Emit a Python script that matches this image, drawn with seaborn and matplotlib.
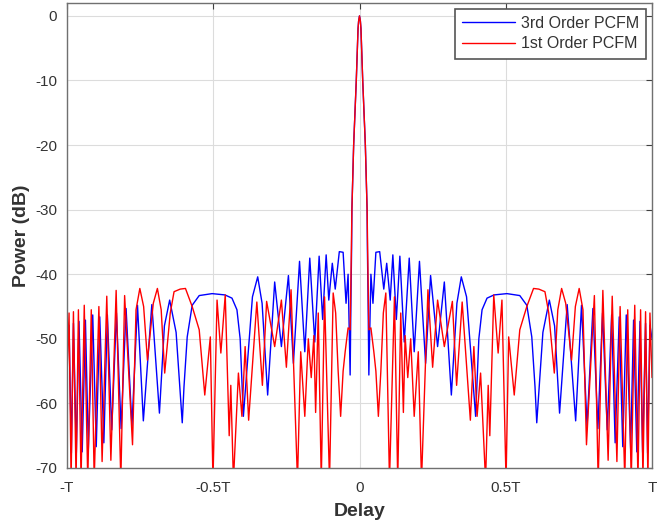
import numpy as np
import pandas as pd
import matplotlib
matplotlib.use("Agg")
import matplotlib.pyplot as plt
import seaborn as sns

# ---- data (right half, delay in units of T; autocorrelation is symmetric) ----
delay_3rd = [0, 0.003, 0.005, 0.011, 0.020, 0.026, 0.027, 0.029, 0.032, 0.039, 0.046,
             0.056, 0.069, 0.083, 0.093, 0.105, 0.114, 0.126, 0.138, 0.153, 0.170,
             0.187, 0.205, 0.226, 0.243, 0.267, 0.290, 0.314, 0.333, 0.348, 0.366,
             0.397, 0.408, 0.419, 0.436, 0.460, 0.504, 0.548, 0.572, 0.589, 0.600,
             0.606, 0.627, 0.649, 0.667, 0.684, 0.710, 0.739, 0.759, 0.778, 0.798,
             0.815, 0.831, 0.847, 0.862, 0.874, 0.888, 0.900, 0.912, 0.927, 0.937,
             0.948, 0.959, 0.968, 0.978, 0.985, 0.993, 1.0]
power_3rd = [0, -0.8, -2, -10, -20, -30, -36, -42.7, -55.6, -40, -44.5,
             -36.6, -36.5, -42.3, -38.3, -44, -37, -47, -37.2, -50.5, -37.5,
             -52, -38, -53.8, -40.2, -51.2, -41.2, -58.7, -44.5, -40.4, -43.5,
             -62, -50, -45.5, -43.7, -43.2, -43, -43.3, -44.8, -49.7, -57.4,
             -63, -49, -44, -48, -61.5, -44.7, -62.7, -44.8, -63.5, -45.3,
             -63.9, -46, -64.1, -46.3, -66.1, -46.6, -66.7, -46.3, -67, -47.1,
             -67.5, -47.3, -67.6, -47.6, -67.7, -47.9, -50]

delay_1st = [0, 0.003, 0.005, 0.011, 0.020, 0.026, 0.029, 0.032, 0.039, 0.049, 0.056,
             0.0645, 0.073, 0.0815, 0.090, 0.1025, 0.1195, 0.1307, 0.141, 0.150, 0.156,
             0.165, 0.175, 0.187, 0.201, 0.212, 0.234, 0.250, 0.267, 0.290, 0.3175,
             0.332, 0.351, 0.379, 0.391, 0.402, 0.414, 0.431, 0.440, 0.4455, 0.459,
             0.474, 0.487, 0.501, 0.510, 0.529, 0.548, 0.572, 0.595, 0.613, 0.634,
             0.647, 0.666, 0.678, 0.691, 0.705, 0.725, 0.738, 0.751, 0.764, 0.776,
             0.803, 0.816, 0.832, 0.850, 0.864, 0.880, 0.891, 0.907, 0.917, 0.929,
             0.941, 0.952, 0.961, 0.969, 0.978, 0.986, 0.993, 1.0]
power_1st = [0, -0.8, -2, -10, -20, -30, -40, -48.6, -48.3, -52, -55,
             -62, -55, -46, -42.9, -72, -43.5, -72, -46, -61.4, -49.5,
             -56, -50, -62, -52, -72, -42.4, -54.4, -44, -51.2, -44.2,
             -57.2, -44.3, -62.6, -51.2, -62, -55.3, -72, -57.2, -65, -43.2,
             -52.2, -44, -72, -49.7, -58.7, -48.6, -45, -42.2, -42.3, -42.7,
             -46, -55.3, -45.5, -42.2, -44.5, -53.3, -45, -42.2, -45.5, -66.4,
             -43.3, -72, -42.5, -68.8, -43.4, -69, -45, -72, -45.5, -72,
             -44.8, -72, -45.5, -72, -45.8, -72, -46, -56]

series_names = ["3rd Order PCFM", "1st Order PCFM"]
series_colors = ["#0000ff", "#ff0000"]
xtick_vals = [-1, -0.5, 0, 0.5, 1]
xtick_labels = ["-T", "-0.5T", "0", "0.5T", "T"]
ytick_vals = [0, -10, -20, -30, -40, -50, -60, -70]


def mirror(x, y):
    x = np.asarray(x, float)
    y = np.asarray(y, float)
    return np.concatenate([-x[:0:-1], x]), np.concatenate([y[:0:-1], y])


frames = []
for name, dx, py in [(series_names[0], delay_3rd, power_3rd),
                     (series_names[1], delay_1st, power_1st)]:
    xx, yy = mirror(dx, py)
    frames.append(pd.DataFrame({"Delay": xx, "Power": yy, "Series": name}))
df = pd.concat(frames, ignore_index=True)

sns.set_theme(style="whitegrid")
plt.rcParams["font.family"] = ["Liberation Sans", "DejaVu Sans"]
plt.rcParams["axes.unicode_minus"] = False

fig = plt.figure(figsize=(6.59, 5.26), dpi=100)
ax = fig.add_axes([67 / 659, 1 - 468 / 526, (652 - 67) / 659, (468 - 3) / 526])

sns.lineplot(data=df, x="Delay", y="Power", hue="Series", hue_order=series_names,
             palette=dict(zip(series_names, series_colors)), sort=False,
             estimator=None, linewidth=1.0, ax=ax, legend=True)

ax.set_xlim(-1, 1)
ax.set_ylim(-70, 2)
ax.set_xticks(xtick_vals)
ax.set_xticklabels(xtick_labels)
ax.set_yticks(ytick_vals)
ax.grid(True, color="#dcdcdc", linewidth=0.8)
ax.set_facecolor("white")
for s in ax.spines.values():
    s.set_color("#707070")
    s.set_linewidth(1.0)
    s.set_visible(True)
ax.tick_params(direction="in", top=True, right=True, length=4, width=0.8,
               color="#404040", labelsize=11, labelcolor="#333333")
ax.tick_params(axis="x", pad=9)
ax.tick_params(axis="y", pad=7)
ax.set_xlabel("Delay", fontsize=14, fontweight="bold", color="#333333", labelpad=6)
ax.set_ylabel("Power (dB)", fontsize=14, fontweight="bold", color="#333333", labelpad=4)

leg = ax.legend(loc="upper right", fontsize=11.5, frameon=True, fancybox=False,
                edgecolor="#555555", framealpha=1, borderaxespad=0.35,
                handlelength=3.3, handletextpad=0.4, borderpad=0.45, labelspacing=0.35)
leg.get_frame().set_linewidth(1.2)
for t in leg.get_texts():
    t.set_color("#333333")

fig.savefig("out.png", dpi=100, facecolor="white")
